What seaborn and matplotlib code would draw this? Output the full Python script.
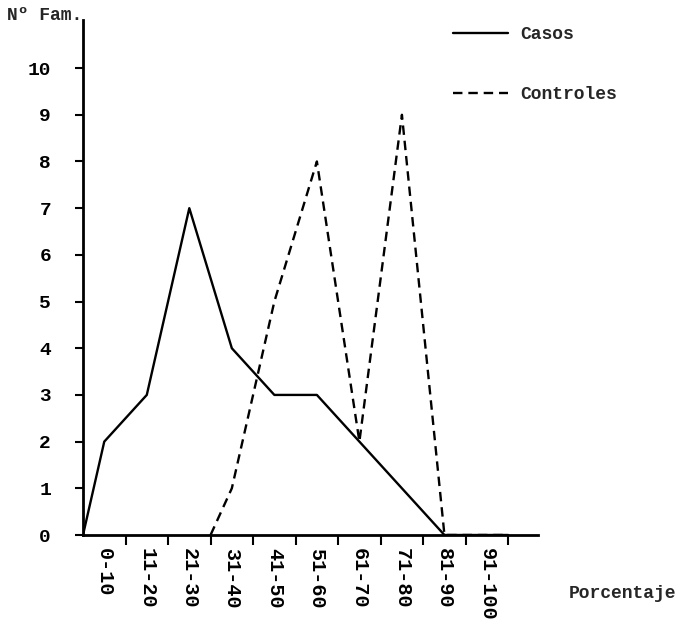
import numpy as np
import pandas as pd
import matplotlib
matplotlib.use("Agg")
import matplotlib.pyplot as plt
import seaborn as sns

categories = ["0-10", "11-20", "21-30", "31-40", "41-50",
              "51-60", "61-70", "71-80", "81-90", "91-100"]
casos = [2, 3, 7, 4, 3, 3, 2, 1, 0, 0]
controles = [np.nan, np.nan, np.nan, 1, 5, 8, 2, 9, 0, 0]
y_ticks = list(range(0, 11))

sns.set_style("white")
plt.rcParams["font.family"] = ["Liberation Mono", "DejaVu Sans Mono"]
plt.rcParams["font.weight"] = "bold"
plt.rcParams["axes.labelweight"] = "bold"

fig = plt.figure(figsize=(6.81, 6.21), dpi=100)
ax = fig.add_axes([83 / 681, 1 - 535 / 621, 455 / 681, 515 / 621])


def series_frame(values):
    vals = np.asarray(values, dtype=float)
    idx = np.where(~np.isnan(vals))[0]
    xs = [float(idx[0])] + list(idx + 0.5) + [float(idx[-1] + 1)]
    ys = [0.0] + list(vals[idx]) + [0.0]
    return pd.DataFrame({"x": xs, "y": ys})


df_c = series_frame(casos)
df_k = series_frame(controles)

sns.lineplot(data=df_c, x="x", y="y", ax=ax, color="black", linewidth=1.7,
             estimator=None, label="Casos")
sns.lineplot(data=df_k, x="x", y="y", ax=ax, color="black", linewidth=1.7,
             linestyle=(0, (4, 2.5)), estimator=None, label="Controles")

ax.set_xlim(0, 10.7)
ax.set_ylim(0, 11.03)

for s in ["top", "right"]:
    ax.spines[s].set_visible(False)
for s in ["left", "bottom"]:
    ax.spines[s].set_linewidth(2)
    ax.spines[s].set_color("black")

ax.set_yticks(y_ticks)
ax.set_yticklabels([str(v) for v in y_ticks])
ax.tick_params(axis="y", direction="out", length=6, width=1.5, pad=17,
               labelsize=14, left=True, colors="black")

n = len(categories)
ax.set_xticks(np.arange(n) + 0.5)
ax.set_xticklabels(categories, rotation=-90, ha="center", va="top")
ax.set_xticks(np.arange(1, n + 1), minor=True)
ax.tick_params(axis="x", which="major", length=0, pad=9, labelsize=14.5, colors="black")
ax.tick_params(axis="x", which="minor", direction="out", length=7, width=1.5,
               bottom=True, colors="black")

ax.set_xlabel("Porcentaje", fontsize=13, fontweight="bold", ha="right", va="center")
ax.xaxis.set_label_coords((676 - 83) / 455, (535 - 594) / 515)
ax.set_ylabel("Nº Fam.", fontsize=13, fontweight="bold", rotation=0, ha="right", va="center")
ax.yaxis.set_label_coords((82 - 83) / 455, (535 - 15) / 515)

leg = ax.legend(loc="upper left", bbox_to_anchor=((453 - 83) / 455, (535 - 26) / 515),
                frameon=False, fontsize=13, handlelength=3.05, handletextpad=0.65,
                labelspacing=2.4, borderpad=0, borderaxespad=0)

fig.savefig("out.png", dpi=100, facecolor="white")
